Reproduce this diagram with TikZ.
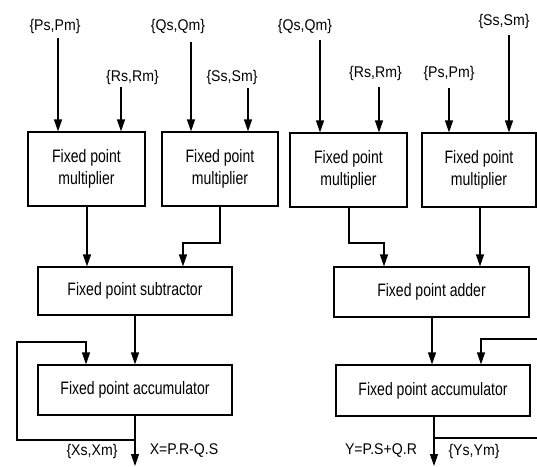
\documentclass[tikz,border=0pt]{standalone}
\usepackage{fontspec}
\setmainfont{Liberation Sans}
\newfontfamily\boxfont{Liberation Sans}[FakeStretch=0.78]
\newfontfamily\labfont{Liberation Sans}[FakeStretch=0.91]
\usetikzlibrary{arrows.meta}
\begin{document}
\begin{tikzpicture}[x=1pt,y=-1pt,
  blk/.style={draw, line width=1.2pt, rectangle, inner sep=0pt, align=center,
    font=\boxfont\fontsize{18}{21.5}\selectfont},
  lab/.style={inner sep=0pt, font=\labfont\fontsize{15.5}{17}\selectfont},
  ln/.style={line width=1.2pt},
  arr/.style={ln, -{Triangle[width=8pt,length=12pt]}}]
\useasboundingbox (0,0) rectangle (537,466);
\clip (0,0) rectangle (537,466);
% blocks
\node[blk, minimum width=117pt, minimum height=74pt] (m1) at (86.5,169) {Fixed point\\multiplier};
\node[blk, minimum width=116pt, minimum height=74pt] (m2) at (220,169) {Fixed point\\multiplier};
\node[blk, minimum width=117pt, minimum height=74pt] (m3) at (348.5,170) {Fixed point\\multiplier};
\node[blk, minimum width=114pt, minimum height=74pt] (m4) at (479,170) {Fixed point\\multiplier};
\node[blk, minimum width=194pt, minimum height=48pt] (sub) at (135,291) {Fixed point subtractor};
\node[blk, minimum width=194pt, minimum height=50pt] (acc1) at (135,390) {Fixed point accumulator};
\node[blk, minimum width=195pt, minimum height=50pt] (add) at (431.5,292) {Fixed point adder};
\node[blk, minimum width=194pt, minimum height=51pt] (acc2) at (433,390.5) {Fixed point accumulator};
% input labels
\node[lab] (lP1) at (55,26) {\{Ps,Pm\}};
\node[lab] (lR1) at (132.5,77) {\{Rs,Rm\}};
\node[lab] (lQ1) at (178,26) {\{Qs,Qm\}};
\node[lab] (lS1) at (232,77) {\{Ss,Sm\}};
\node[lab] (lQ2) at (305,26) {\{Qs,Qm\}};
\node[lab] (lR2) at (375.5,73) {\{Rs,Rm\}};
\node[lab] (lP2) at (449,73) {\{Ps,Pm\}};
\node[lab] (lS2) at (504,21) {\{Ss,Sm\}};
% output labels
\node[lab] (lX) at (92,451) {\{Xs,Xm\}};
\node[lab] (eX) at (184,451) {X=P.R-Q.S};
\node[lab] (eY) at (381,451) {Y=P.S+Q.R};
\node[lab] (lY) at (474,451) {\{Ys,Ym\}};
% input arrow start points
\coordinate (iP1) at (58,38);
\coordinate (iR1) at (121,87);
\coordinate (iQ1) at (191,42);
\coordinate (iS1) at (248,88);
\coordinate (iQ2) at (320,40);
\coordinate (iR2) at (379,87);
\coordinate (iP2) at (449,88);
\coordinate (iS2) at (509,35);
\draw[arr] (iP1) -- (iP1 |- m1.north);
\draw[arr] (iR1) -- (iR1 |- m1.north);
\draw[arr] (iQ1) -- (iQ1 |- m2.north);
\draw[arr] (iS1) -- (iS1 |- m2.north);
\draw[arr] (iQ2) -- (iQ2 |- m3.north);
\draw[arr] (iR2) -- (iR2 |- m3.north);
\draw[arr] (iP2) -- (iP2 |- m4.north);
\draw[arr] (iS2) -- (iS2 |- m4.north);
% multiplier outputs
\coordinate (o1) at (87,206);
\draw[arr] (o1) -- (o1 |- sub.north);
\coordinate (o2) at (220,206);
\coordinate (k2) at (183,243);
\draw[arr] (o2) |- (k2) -- (k2 |- sub.north);
\coordinate (o3) at (349,207);
\coordinate (k3) at (384,243);
\draw[arr] (o3) |- (k3) -- (k3 |- add.north);
\coordinate (o4) at (480,207);
\draw[arr] (o4) -- (o4 |- add.north);
% sub/add to accumulators
\draw[arr] (sub.south) -- (acc1.north);
\coordinate (a2) at (432,317);
\draw[arr] (a2) -- (a2 |- acc2.north);
% left accumulator output & feedback
\coordinate (x1) at (135,415);
\coordinate (x1end) at (135,466);
\draw[arr] (x1) -- (x1end);
\coordinate (f1) at (135,440);
\coordinate (f1a) at (17,440);
\coordinate (f1b) at (17,342);
\coordinate (f1c) at (86,342);
\draw[arr] (f1) -- (f1a) -- (f1b) -- (f1c) -- (f1c |- acc1.north);
% right accumulator output & feedback
\coordinate (x2) at (434,416);
\coordinate (x2end) at (434,466);
\draw[arr] (x2) -- (x2end);
\coordinate (f2) at (434,438);
\coordinate (f2a) at (540,438);
\draw[ln] (f2) -- (f2a);
\coordinate (f2b) at (540,339);
\coordinate (f2c) at (481,339);
\draw[arr] (f2b) -- (f2c) -- (f2c |- acc2.north);
\end{tikzpicture}
\end{document}
